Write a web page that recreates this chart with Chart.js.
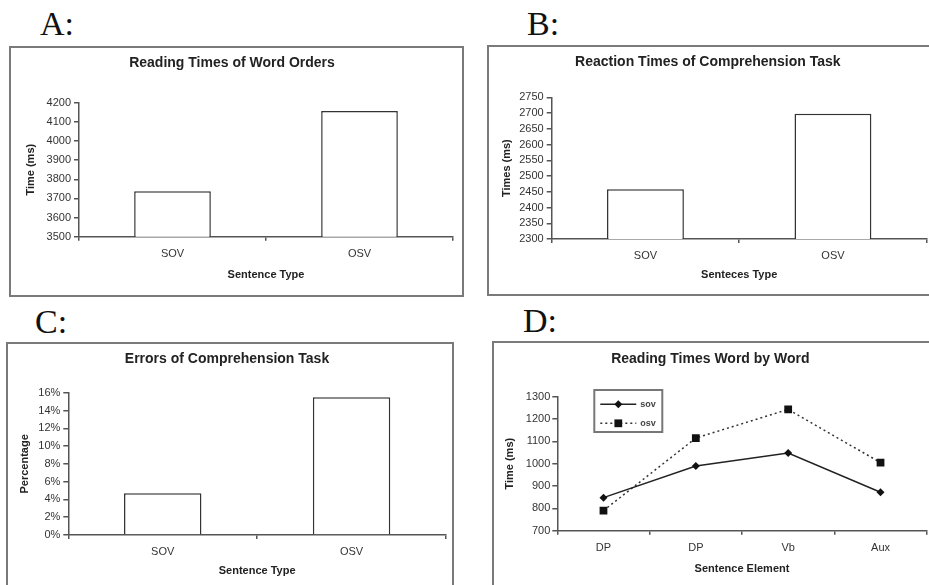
<!DOCTYPE html>
<html><head><meta charset="utf-8">
<script src="https://cdn.jsdelivr.net/npm/chart.js@4"></script>
<style>
html,body{margin:0;padding:0;background:#fff;width:929px;height:585px;overflow:hidden;position:relative;}
.letter{position:absolute;font-family:"Liberation Serif","Times New Roman",serif;font-size:34px;color:#111;line-height:1;white-space:nowrap;}
.panel{position:absolute;box-sizing:border-box;border:2px solid #7a7a7a;background:#fff;}
.panel canvas{display:block;}
</style></head><body>
<div class="letter" style="left:40px;top:7px">A:</div>
<div class="letter" style="left:527px;top:7px">B:</div>
<div class="letter" style="left:35px;top:305px">C:</div>
<div class="letter" style="left:523px;top:304px">D:</div>

<div class="panel" style="left:9px;top:46px;width:455px;height:251px"><canvas id="cA" width="451" height="247"></canvas></div>
<div class="panel" style="left:487px;top:45px;width:450px;height:251px"><canvas id="cB" width="446" height="247"></canvas></div>
<div class="panel" style="left:6px;top:342px;width:448px;height:251px"><canvas id="cC" width="444" height="247"></canvas></div>
<div class="panel" style="left:492px;top:341px;width:450px;height:251px"><canvas id="cD" width="446" height="247"></canvas></div>

<script>
// ---- data ----
const typeLabels = ['SOV', 'OSV'];
const readingTimes = [3737, 4157];
const reactionTimes = [2458, 2698];
const errorPercents = [4.7, 15.5];
const elementLabels = ['DP', 'DP', 'Vb', 'Aux'];
const seriesNames = ['sov', 'osv'];
const sovTimes = [848, 990, 1048, 872];
const osvTimes = [790, 1115, 1243, 1005];
const ticksA = [3500, 3600, 3700, 3800, 3900, 4000, 4100, 4200];
const ticksB = [2300, 2350, 2400, 2450, 2500, 2550, 2600, 2650, 2700, 2750];
const ticksC = [0, 2, 4, 6, 8, 10, 12, 14, 16];
const ticksD = [700, 800, 900, 1000, 1100, 1200, 1300];

// ---- style ----
const FONT = '"Liberation Sans", Arial, sans-serif';
const INK = '#333';
const AXIS = '#555';

function baseOptions(g, title, xTitle, yTitle, yTicks, fmt) {
  return {
    responsive: false, animation: false, devicePixelRatio: 1,
    layout: {padding: {left: 0, top: 0, right: g.right, bottom: 0}},
    plugins: {
      legend: {display: false}, tooltip: {enabled: false},
      title: {display: true, text: title, color: '#222',
        font: {family: FONT, size: 14, weight: 'bold'},
        padding: {top: g.titleC - 8.4, bottom: g.plotTop - g.titleC - 8.4}}
    },
    scales: {
      x: {
        offset: true,
        grid: {display: true, offset: true, drawOnChartArea: false, drawTicks: true, tickLength: 4, color: AXIS, lineWidth: 1.5},
        border: {display: true, color: AXIS, width: 1.5},
        ticks: {color: INK, font: {family: FONT, size: 11}, padding: g.xLab - 4 - 6.6, maxRotation: 0, autoSkip: false},
        title: {display: true, text: xTitle, color: '#222', font: {family: FONT, size: 11, weight: 'bold'},
          padding: {top: 0, bottom: g.xTitle - 6.6}},
        afterFit: s => { s.height = g.xH; }
      },
      y: {
        min: yTicks[0], max: yTicks[yTicks.length - 1],
        afterBuildTicks: s => { s.ticks = yTicks.map(v => ({value: v})); },
        grid: {drawOnChartArea: false, drawTicks: true, tickLength: 5, color: AXIS, lineWidth: 1.5},
        border: {display: true, color: AXIS, width: 1.5},
        ticks: {color: INK, font: {family: FONT, size: 11, lineHeight: 1}, padding: 3, autoSkip: false,
          callback: fmt || (v => v)},
        title: {display: true, text: yTitle, color: '#222', font: {family: FONT, size: 11, weight: 'bold'},
          padding: {top: g.yTitle - 6.6, bottom: 0}},
        afterFit: s => { s.width = g.yW; }
      }
    }
  };
}

function barChart(id, g, values, title, xTitle, yTitle, yTicks, fmt) {
  new Chart(document.getElementById(id), {
    type: 'bar',
    data: {labels: typeLabels, datasets: [{
      data: values, backgroundColor: '#fff', borderColor: '#333', borderWidth: 1.5,
      barPercentage: 0.41, categoryPercentage: 1
    }]},
    options: baseOptions(g, title, xTitle, yTitle, yTicks, fmt)
  });
}

barChart('cA', {yW: 68, plotTop: 54.7, right: 9, xH: 58.3, titleC: 15, xLab: 17.3, xTitle: 20, yTitle: 20},
  readingTimes, 'Reading Times of Word Orders', 'Sentence Type', 'Time (ms)', ticksA);
barChart('cB', {yW: 62.7, plotTop: 50.3, right: 8.3, xH: 55, titleC: 15, xLab: 17, xTitle: 18.7, yTitle: 17.7},
  reactionTimes, 'Reaction Times of Comprehension Task', 'Senteces Type', 'Times (ms)', ticksB);
barChart('cC', {yW: 60.3, plotTop: 48.7, right: 6, xH: 56, titleC: 15, xLab: 17, xTitle: 20.3, yTitle: 17},
  errorPercents, 'Errors of Comprehension Task', 'Sentence Type', 'Percentage', ticksC, v => v + '%');

// inset legend for panel D, drawn from the datasets
const insetLegend = {
  id: 'insetLegend',
  afterDatasetsDraw(chart, args, o) {
    const {ctx, chartArea} = chart;
    const x0 = chartArea.left + o.dx, y0 = chartArea.top + o.dy;
    ctx.save();
    ctx.fillStyle = '#fff';
    ctx.fillRect(x0, y0, o.w, o.h);
    ctx.strokeStyle = '#777'; ctx.lineWidth = 2; ctx.setLineDash([]);
    ctx.strokeRect(x0, y0, o.w, o.h);
    chart.data.datasets.forEach((ds, i) => {
      const y = y0 + o.row0 + i * o.rowH;
      ctx.strokeStyle = ds.borderColor; ctx.lineWidth = ds.borderWidth;
      ctx.setLineDash(ds.borderDash || []);
      ctx.beginPath(); ctx.moveTo(x0 + o.l0, y); ctx.lineTo(x0 + o.l1, y); ctx.stroke();
      ctx.setLineDash([]);
      const mx = x0 + o.mx, r = ds.pointRadius;
      ctx.fillStyle = ds.pointBackgroundColor;
      ctx.beginPath();
      if (ds.pointStyle === 'rectRot') {
        ctx.moveTo(mx, y - r); ctx.lineTo(mx + r, y); ctx.lineTo(mx, y + r); ctx.lineTo(mx - r, y); ctx.closePath();
      } else {
        const s = r * Math.SQRT1_2; ctx.rect(mx - s, y - s, 2 * s, 2 * s);
      }
      ctx.fill();
      ctx.fillStyle = '#444'; ctx.font = 'bold 9px ' + FONT; ctx.textBaseline = 'middle'; ctx.textAlign = 'left';
      ctx.fillText(ds.label, x0 + o.tx, y);
    });
    ctx.restore();
  }
};

const gD = {yW: 63.3, plotTop: 53.7, right: 13.3, xH: 59.3, titleC: 16, xLab: 17.6, xTitle: 20.7, yTitle: 16};
const optD = baseOptions(gD, 'Reading Times Word by Word', 'Sentence Element', 'Time (ms)', ticksD);
optD.scales.y.ticks.padding = 2;
optD.plugins.insetLegend = {dx: 37, dy: -6.7, w: 68, h: 42, row0: 14.3, rowH: 19, l0: 6, l1: 42, mx: 24, tx: 46};
new Chart(document.getElementById('cD'), {
  type: 'line',
  data: {labels: elementLabels, datasets: [
    {label: seriesNames[0], data: sovTimes, borderColor: '#222', borderWidth: 1.5, tension: 0, fill: false,
     pointStyle: 'rectRot', pointRadius: 4, pointBackgroundColor: '#111', pointBorderColor: '#111', pointBorderWidth: 0},
    {label: seriesNames[1], data: osvTimes, borderColor: '#333', borderWidth: 1.5, borderDash: [2, 3], tension: 0, fill: false,
     pointStyle: 'rect', pointRadius: 5.5, pointBackgroundColor: '#111', pointBorderColor: '#111', pointBorderWidth: 0}
  ]},
  options: optD,
  plugins: [insetLegend]
});
</script>
</body></html>
